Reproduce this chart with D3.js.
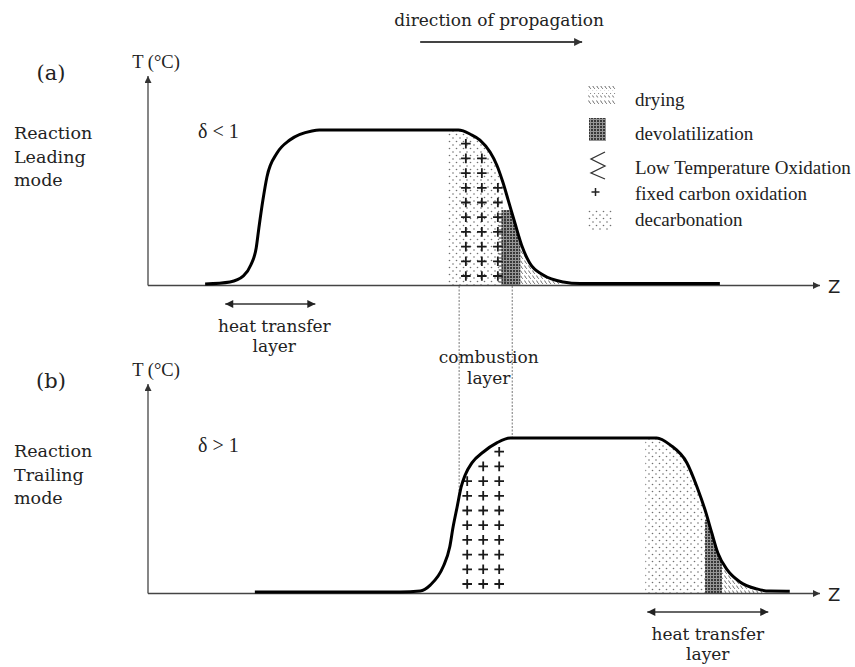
<!DOCTYPE html>
<html>
<head>
<meta charset="utf-8">
<script src="https://cdn.jsdelivr.net/npm/d3@7/dist/d3.min.js"></script>
<style>
  html, body { margin: 0; padding: 0; background: #fff; }
  svg { display: block; }
  .cam { font-family: "DejaVu Serif", serif; fill: #222; }
  .tms { font-family: "Liberation Serif", "Times New Roman", serif; fill: #222; }
</style>
</head>
<body>
<svg id="chart" width="855" height="667"></svg>
<script>
// ---- Temperature profiles: position z (arbitrary units) vs temperature (% of peak) ----
const leadingZ = [8.5, 12.2, 14.2, 15.3, 16.1, 16.5, 17.1, 17.7, 19.2, 21.1, 24.4, 25.5, 46.2, 46.9, 47.9, 49.4, 50.9, 51.9, 52.8, 53.6, 54.6, 55.7, 56.8, 58.8, 61.8, 64.3, 85.1];
const leadingT = [0, 1.3, 5.2, 12.3, 23.4, 36.4, 54.5, 69.5, 85, 93.5, 99.4, 100, 100, 99.4, 97.4, 93.5, 85.7, 77.3, 66.2, 54.5, 39.6, 24, 13.6, 5.8, 1.3, 0.3, 0.3];

const trailingZ = [15.9, 37.5, 40.5, 42.0, 43.9, 44.9, 45.4, 46.0, 46.6, 47.2, 48.2, 49.9, 51.9, 53.9, 75.7, 77.7, 80.2, 81.7, 82.9, 83.9, 84.8, 86.2, 88.1, 90.6, 92.5, 95.5];
const trailingT = [0, 0, 0.6, 4.5, 16.2, 29.2, 42.2, 55.2, 68.2, 76, 83.8, 90.9, 96.8, 100, 100, 95.5, 83.8, 68.2, 53.2, 38.3, 25.3, 14.3, 6.5, 2.0, 0.6, 0.5];

// ---- Reaction zones: [z start, z end, max temperature reached by the shading] ----
const leadingDecarbonation = [44.5, 53.0, 100];
const leadingFixedCarbon   = [46.5, 53.5, 100];
const leadingLTO           = [52.2, 53.3, 46];
const leadingDevol         = [52.6, 55.4, 48];
const leadingDrying        = [55.3, 61.5, 30];

const trailingDecarbonation = [74.0, 82.9, 100];
const trailingFixedCarbon   = [46.7, 53.7, 100];
const trailingDevol         = [82.9, 85.4, 47];
const trailingDrying        = [85.3, 91.5, 30];

// Layer extents along z
const combustionBounds   = [46.3, 54.2];
const heatLayerLeading   = [11.5, 24.9];
const heatLayerTrailing  = [74.3, 92.3];
const propagationArrow   = [40.5, 64.6];

// ---- Text ----
const panelTags   = ["(a)", "(b)"];
const modeLabels  = [["Reaction", "Leading", "mode"], ["Reaction", "Trailing", "mode"]];
const deltaLabels = ["\u03b4 < 1", "\u03b4 > 1"];
const axisYLabel  = "T (\u00b0C)";
const axisXLabel  = "Z";
const legendLabels = ["drying", "devolatilization", "Low Temperature Oxidation", "fixed carbon oxidation", "decarbonation"];
const legendKeys   = ["drying", "devol", "lto", "fixed", "decarb"];

// ---- Scales ----
const x = d3.scaleLinear().domain([0, 100]).range([148, 820]);
const yTop = d3.scaleLinear().domain([0, 100]).range([284, 130]);
const yBot = d3.scaleLinear().domain([0, 100]).range([592, 438]);
const T_AXIS_MAX = 135;

const svg = d3.select("#chart");
const defs = svg.append("defs");

// arrowheads
function addMarker(id, w, h, color) {
  defs.append("marker")
    .attr("id", id)
    .attr("viewBox", "0 0 10 10")
    .attr("refX", 10).attr("refY", 5)
    .attr("markerWidth", w).attr("markerHeight", h)
    .attr("markerUnits", "userSpaceOnUse")
    .attr("orient", "auto-start-reverse")
    .append("path").attr("d", "M0,0L10,5L0,10Z").attr("fill", color);
}
addMarker("axHead", 9, 7, "#333");
addMarker("dirHead", 11, 8, "#333");
addMarker("htHead", 10, 8, "#222");

// fill textures
const pDecarb = defs.append("pattern").attr("id", "pat-decarb")
  .attr("patternUnits", "userSpaceOnUse").attr("width", 7).attr("height", 7);
pDecarb.append("circle").attr("cx", 1.5).attr("cy", 1.5).attr("r", 0.8).attr("fill", "#707070");
pDecarb.append("circle").attr("cx", 5).attr("cy", 5).attr("r", 0.8).attr("fill", "#707070");

const pDevol = defs.append("pattern").attr("id", "pat-devol")
  .attr("patternUnits", "userSpaceOnUse").attr("width", 3).attr("height", 3);
pDevol.append("rect").attr("width", 3).attr("height", 3).attr("fill", "#969696");
pDevol.append("rect").attr("width", 2).attr("height", 2).attr("fill", "#383838");

const pDry = defs.append("pattern").attr("id", "pat-drying")
  .attr("patternUnits", "userSpaceOnUse").attr("width", 4).attr("height", 5);
pDry.append("path").attr("d", "M0.6,0.5 Q1.2,2.2 2.8,3.8").attr("fill", "none")
  .attr("stroke", "#555").attr("stroke-width", 0.9);

const pLto = defs.append("pattern").attr("id", "pat-lto")
  .attr("patternUnits", "userSpaceOnUse").attr("width", 6).attr("height", 4);
pLto.append("line").attr("x1", 0).attr("x2", 5).attr("y1", 2).attr("y2", 2)
  .attr("stroke", "#333").attr("stroke-width", 1);

// linear lookup of a profile
function profileAt(zs, ts, z) {
  if (z <= zs[0]) return ts[0];
  for (let i = 1; i < zs.length; i++) {
    if (z <= zs[i]) {
      const f = (z - zs[i - 1]) / (zs[i] - zs[i - 1]);
      return ts[i - 1] + f * (ts[i] - ts[i - 1]);
    }
  }
  return ts[ts.length - 1];
}

function drawPanel(cfg) {
  const { y, zs, ts, id } = cfg;
  const pts = zs.map((z, i) => [z, ts[i]]);
  const g = svg.append("g").attr("class", "panel-" + id);
  const base = y(0);

  // region under the profile, used to clip the zone textures
  const area = d3.area().x(d => x(d[0])).y0(base + 1).y1(d => y(d[1])).curve(d3.curveMonotoneX);
  defs.append("clipPath").attr("id", "under-" + id).append("path").attr("d", area(pts));

  const zones = g.append("g").attr("clip-path", "url(#under-" + id + ")");
  cfg.zones.forEach(([zr, pat]) => {
    zones.append("rect")
      .attr("x", x(zr[0])).attr("width", x(zr[1]) - x(zr[0]))
      .attr("y", y(zr[2])).attr("height", base + 1 - y(zr[2]))
      .attr("fill", "url(#" + pat + ")");
  });

  // fixed-carbon crosses on a regular grid beneath the profile
  const fz = cfg.fixed;
  const colStep = 16 / (x(1) - x(0));
  const rowStep = 14.7 / (y(0) - y(1));
  const firstRow = 8 / (y(0) - y(1));
  const margin = 8 / (y(0) - y(1));
  const crosses = [];
  d3.range(fz[0] + 0.8, fz[1], colStep).forEach(z => {
    const top = profileAt(zs, ts, z);
    d3.range(firstRow, 100, rowStep).forEach(t => {
      if (top - t >= margin) crosses.push([z, t]);
    });
  });
  g.append("g").selectAll("path").data(crosses).join("path")
    .attr("d", d => {
      const cx = x(d[0]), cy = y(d[1]), r = 4.8;
      return `M${cx - r},${cy}H${cx + r}M${cx},${cy - r}V${cy + r}`;
    })
    .attr("stroke", "#1a1a1a").attr("stroke-width", 1.8).attr("fill", "none");

  // axes
  g.append("line")
    .attr("x1", x(0)).attr("x2", x(0))
    .attr("y1", base + 1.5).attr("y2", y(T_AXIS_MAX))
    .attr("stroke", "#444").attr("stroke-width", 1.3).attr("marker-end", "url(#axHead)");
  g.append("line")
    .attr("x1", x(0)).attr("x2", x(100))
    .attr("y1", base + 1.5).attr("y2", base + 1.5)
    .attr("stroke", "#444").attr("stroke-width", 1.3).attr("marker-end", "url(#axHead)");

  // temperature profile
  const line = d3.line().x(d => x(d[0])).y(d => y(d[1])).curve(d3.curveMonotoneX);
  g.append("path").attr("d", line(pts))
    .attr("fill", "none").attr("stroke", "#000").attr("stroke-width", 3)
    .attr("stroke-linejoin", "round");

  // labels
  g.append("text").attr("class", "cam").attr("x", 51).attr("y", cfg.tagY)
    .attr("text-anchor", "middle").style("font-size", "21px").text(cfg.tag);
  g.append("text").attr("class", "tms").attr("x", 156).attr("y", y(T_AXIS_MAX) - 8)
    .attr("text-anchor", "middle").style("font-size", "18.5px").text(axisYLabel);
  g.append("text").attr("class", "cam").attr("x", 14).attr("y", cfg.modeY)
    .style("font-size", "17.5px")
    .selectAll("tspan").data(cfg.mode).join("tspan")
    .attr("x", 14).attr("dy", (d, i) => i === 0 ? 0 : 23.5).text(d => d);
  g.append("text").attr("class", "tms").attr("x", 198).attr("y", cfg.deltaY)
    .style("font-size", "20px").text(cfg.delta);
  g.append("text").attr("x", 828).attr("y", base + 9)
    .style("font-family", "'DejaVu Sans', sans-serif").style("font-size", "18px")
    .attr("fill", "#222").text(axisXLabel);

  // heat transfer layer
  const hl = cfg.heat;
  const hy = base + cfg.heatDy;
  g.append("line").attr("x1", x(hl[0])).attr("x2", x(hl[1]))
    .attr("y1", hy).attr("y2", hy)
    .attr("stroke", "#333").attr("stroke-width", 1.6)
    .attr("marker-start", "url(#htHead)").attr("marker-end", "url(#htHead)");
  const hc = (x(hl[0]) + x(hl[1])) / 2 + cfg.heatTextDx;
  g.append("text").attr("class", "cam").attr("x", hc).attr("y", hy + 28)
    .attr("text-anchor", "middle").style("font-size", "17px").text("heat transfer");
  g.append("text").attr("class", "cam").attr("x", hc).attr("y", hy + 48)
    .attr("text-anchor", "middle").style("font-size", "17px").text("layer");
}

// dotted combustion-layer boundaries, from the upper axis down to the lower profile
svg.append("g").selectAll("line").data(combustionBounds).join("line")
  .attr("x1", d => x(d)).attr("x2", d => x(d))
  .attr("y1", yTop(0) + 2).attr("y2", d => yBot(profileAt(trailingZ, trailingT, d)))
  .attr("stroke", "#777").attr("stroke-width", 1).attr("stroke-dasharray", "2,1.5");

drawPanel({
  id: "leading", y: yTop, zs: leadingZ, ts: leadingT,
  zones: [[leadingDecarbonation, "pat-decarb"], [leadingDrying, "pat-drying"],
          [leadingDevol, "pat-devol"], [leadingLTO, "pat-lto"]],
  fixed: leadingFixedCarbon,
  tag: panelTags[0], tagY: 80, mode: modeLabels[0], modeY: 139,
  delta: deltaLabels[0], deltaY: 138,
  heat: heatLayerLeading, heatDy: 20, heatTextDx: 4
});
drawPanel({
  id: "trailing", y: yBot, zs: trailingZ, ts: trailingT,
  zones: [[trailingDecarbonation, "pat-decarb"], [trailingDrying, "pat-drying"],
          [trailingDevol, "pat-devol"]],
  fixed: trailingFixedCarbon,
  tag: panelTags[1], tagY: 388, mode: modeLabels[1], modeY: 457,
  delta: deltaLabels[1], deltaY: 452,
  heat: heatLayerTrailing, heatDy: 20, heatTextDx: 0
});

// combustion layer label
const cx = (x(combustionBounds[0]) + x(combustionBounds[1])) / 2 + 3;
svg.append("text").attr("class", "cam").attr("x", cx).attr("y", 363)
  .attr("text-anchor", "middle").style("font-size", "17px").text("combustion");
svg.append("text").attr("class", "cam").attr("x", cx).attr("y", 384)
  .attr("text-anchor", "middle").style("font-size", "17px").text("layer");

// direction of propagation
svg.append("text").attr("class", "cam")
  .attr("x", (x(propagationArrow[0]) + x(propagationArrow[1])) / 2 - 2).attr("y", 26)
  .attr("text-anchor", "middle").style("font-size", "17px").text("direction of propagation");
svg.append("line")
  .attr("x1", x(propagationArrow[0])).attr("x2", x(propagationArrow[1]))
  .attr("y1", 42).attr("y2", 42)
  .attr("stroke", "#444").attr("stroke-width", 1.8).attr("marker-end", "url(#dirHead)");

// legend
const legendRowY = [106, 140, 174, 200, 226];
const lg = svg.append("g").attr("class", "legend");
legendKeys.forEach((k, i) => {
  const by = legendRowY[i];
  const row = lg.append("g");
  if (k === "drying") {
    // three short strips of the drying texture
    [-20, -13, -6].forEach(dy => {
      row.append("rect").attr("x", 588).attr("y", by + dy).attr("width", 28).attr("height", 4.5)
        .attr("fill", "url(#pat-drying)");
    });
  } else if (k === "devol") {
    row.append("rect").attr("x", 589).attr("y", by - 22).attr("width", 17).attr("height", 23)
      .attr("fill", "url(#pat-devol)");
  } else if (k === "lto") {
    row.append("path")
      .attr("d", `M605,${by - 22}L591,${by - 15}L605,${by - 8}L591,${by - 1}L605,${by + 5}`)
      .attr("fill", "none").attr("stroke", "#333").attr("stroke-width", 1.3);
  } else if (k === "fixed") {
    row.append("path").attr("d", `M591.5,${by - 8}H599.5M595.5,${by - 12}V${by - 4}`)
      .attr("stroke", "#222").attr("stroke-width", 1.5);
  } else {
    row.append("rect").attr("x", 587).attr("y", by - 17).attr("width", 26).attr("height", 21)
      .attr("fill", "url(#pat-decarb)");
  }
  row.append("text").attr("class", "tms").attr("x", 635).attr("y", by)
    .style("font-size", "19px").text(legendLabels[i]);
});
</script>
</body>
</html>
